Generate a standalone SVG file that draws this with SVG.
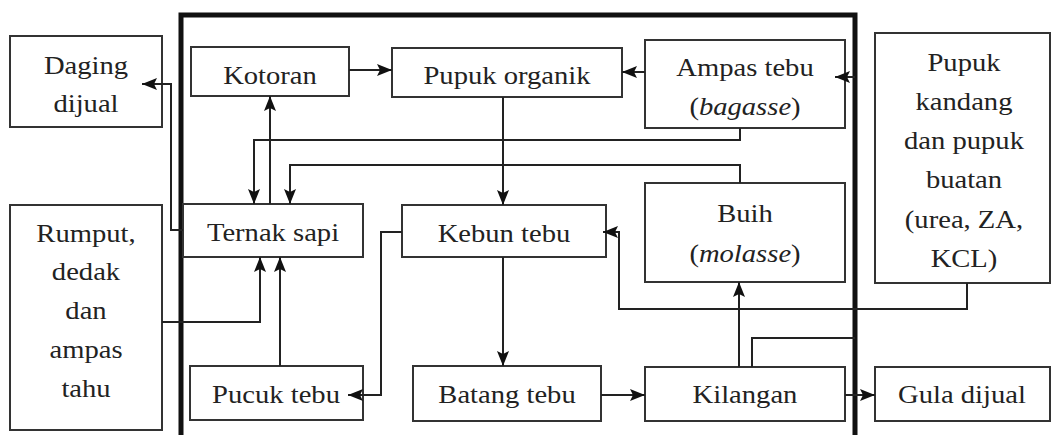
<svg xmlns="http://www.w3.org/2000/svg" width="1055" height="435" viewBox="0 0 1055 435">
<style>
.box{fill:#fff;stroke:#333;stroke-width:2}
.t{font-family:"Liberation Serif","Times New Roman",serif;font-size:26px;fill:#222;text-anchor:middle}
.c{fill:none;stroke:#222;stroke-width:2}
.frame{fill:none;stroke:#111;stroke-width:5}
</style>
<defs>
<marker id="arr" viewBox="0 0 15 12" refX="15" refY="6" markerWidth="15" markerHeight="12" orient="auto" markerUnits="userSpaceOnUse">
<path d="M0,0 L15,6 L0,12 L3,6 z" fill="#111"/>
</marker>
</defs>
<rect width="1055" height="435" fill="#fff"/>
<path class="frame" d="M181,435 V15 H855 V435"/>

<g id="daging"><rect class="box" x="10" y="36" width="152" height="91"/>
<text class="t" transform="translate(86,74) scale(1.1,1)">Daging</text>
<text class="t" transform="translate(86,112) scale(1.1,1)">dijual</text></g>

<g id="kotoran"><rect class="box" x="191" y="47" width="158" height="49"/>
<text class="t" transform="translate(270,84) scale(1.1,1)">Kotoran</text></g>

<g id="pupukorganik"><rect class="box" x="392" y="48" width="230" height="49"/>
<text class="t" transform="translate(507,84) scale(1.1,1)">Pupuk organik</text></g>

<g id="ampas"><rect class="box" x="645" y="40" width="200" height="88"/>
<text class="t" transform="translate(745,76) scale(1.1,1)">Ampas tebu</text>
<text class="t" transform="translate(745,115) scale(1.1,1)">(<tspan font-style="italic">bagasse</tspan>)</text></g>

<g id="pupukkandang"><rect class="box" x="875" y="33" width="175" height="250"/>
<text class="t" transform="translate(964,71) scale(1.1,1)">Pupuk</text>
<text class="t" transform="translate(964,110) scale(1.1,1)">kandang</text>
<text class="t" transform="translate(964,149) scale(1.1,1)">dan pupuk</text>
<text class="t" transform="translate(964,188) scale(1.1,1)">buatan</text>
<text class="t" transform="translate(964,228) scale(1.1,1)">(urea, ZA,</text>
<text class="t" transform="translate(964,267) scale(1.1,1)">KCL)</text></g>

<g id="ternak"><rect class="box" x="183" y="204" width="180" height="53"/>
<text class="t" transform="translate(273,241) scale(1.1,1)">Ternak sapi</text></g>

<g id="rumput"><rect class="box" x="10" y="205" width="152" height="225"/>
<text class="t" transform="translate(86,242) scale(1.1,1)">Rumput,</text>
<text class="t" transform="translate(86,280) scale(1.1,1)">dedak</text>
<text class="t" transform="translate(86,319) scale(1.1,1)">dan</text>
<text class="t" transform="translate(86,358) scale(1.1,1)">ampas</text>
<text class="t" transform="translate(86,397) scale(1.1,1)">tahu</text></g>

<g id="kebun"><rect class="box" x="402" y="205" width="204" height="52"/>
<text class="t" transform="translate(504,242) scale(1.1,1)">Kebun tebu</text></g>

<g id="buih"><rect class="box" x="645" y="183" width="200" height="99"/>
<text class="t" transform="translate(745,222) scale(1.1,1)">Buih</text>
<text class="t" transform="translate(745,262) scale(1.1,1)">(<tspan font-style="italic">molasse</tspan>)</text></g>

<g id="pucuk"><rect class="box" x="190" y="366" width="173" height="54"/>
<text class="t" transform="translate(276,403) scale(1.1,1)">Pucuk tebu</text></g>

<g id="batang"><rect class="box" x="413" y="366" width="188" height="55"/>
<text class="t" transform="translate(507,403) scale(1.1,1)">Batang tebu</text></g>

<g id="kilangan"><rect class="box" x="645" y="367" width="200" height="54"/>
<text class="t" transform="translate(745,403) scale(1.1,1)">Kilangan</text></g>

<g id="gula"><rect class="box" x="875" y="367" width="175" height="54"/>
<text class="t" transform="translate(962,403) scale(1.1,1)">Gula dijual</text></g>

<g id="connectors">
<path class="c" marker-end="url(#arr)" d="M349,70 H392"/>
<path class="c" marker-end="url(#arr)" d="M645,72 H622"/>
<path class="c" marker-end="url(#arr)" d="M855,77 H835"/>
<path class="c" marker-end="url(#arr)" d="M183,230 H171 V84 H142"/>
<path class="c" marker-end="url(#arr)" d="M270,204 V96"/>
<path class="c" marker-end="url(#arr)" d="M740,128 V140 H254 V204"/>
<path class="c" marker-end="url(#arr)" d="M740,183 V165 H290 V204"/>
<path class="c" marker-end="url(#arr)" d="M503,97 V205"/>
<path class="c" marker-end="url(#arr)" d="M967,283 V309 H619 V232 H603"/>
<path class="c" marker-end="url(#arr)" d="M402,232 H381 V395 H348"/>
<path class="c" marker-end="url(#arr)" d="M280,366 V257"/>
<path class="c" marker-end="url(#arr)" d="M162,322 H260 V257"/>
<path class="c" marker-end="url(#arr)" d="M503,257 V366"/>
<path class="c" marker-end="url(#arr)" d="M601,395 H645"/>
<path class="c" marker-end="url(#arr)" d="M739,367 V282"/>
<path class="c" d="M752,367 V338 H855"/>
<path class="c" marker-end="url(#arr)" d="M845,395 H875"/>
</g>
</svg>
